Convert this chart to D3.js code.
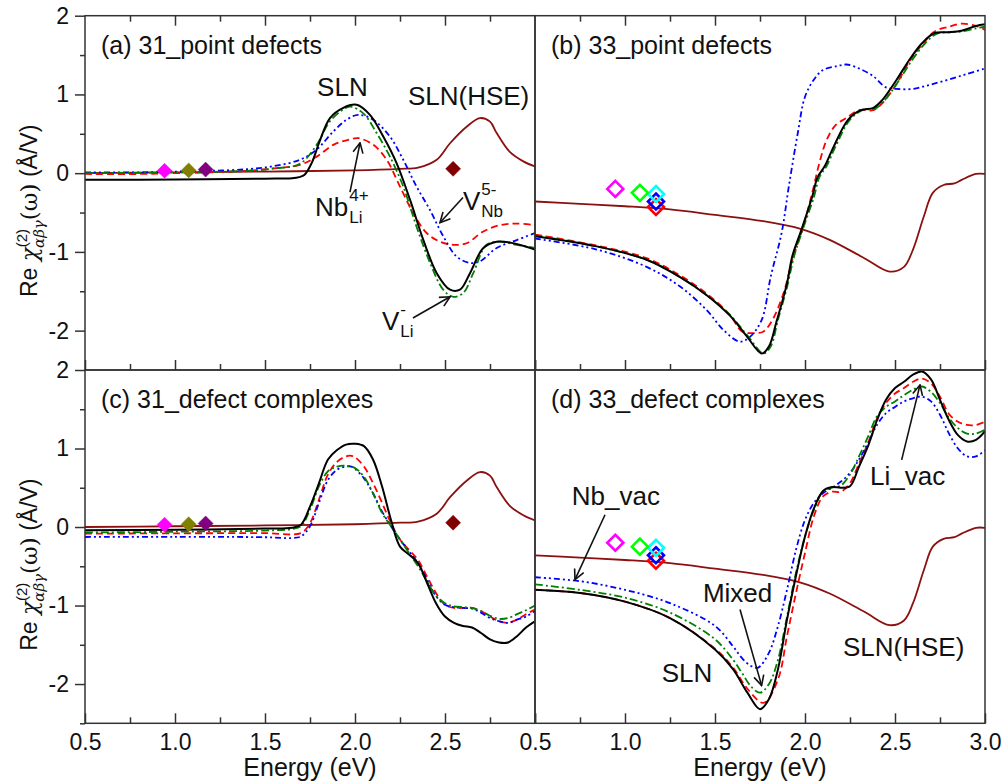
<!DOCTYPE html>
<html>
<head>
<meta charset="utf-8">
<script src="https://cdn.jsdelivr.net/npm/d3@7"></script>
<style>
  body { margin: 0; background: #fff; }
  text { font-family: "Liberation Sans", Arial, sans-serif; fill: #111; }
</style>
</head>
<body>
<div id="chart"></div>
<script>
// ---- data (energy in eV, Re chi in A/V) ----
var hse31 = [[0.5,0.0],[1.0,0.01],[1.5,0.02],[2.0,0.035],[2.25,0.055],[2.35,0.07],[2.454,0.17],[2.528,0.38],[2.62,0.59],[2.694,0.70],[2.75,0.655],[2.787,0.51],[2.86,0.27],[2.935,0.15],[3.0,0.085]];
var hse33 = [[0.5,-0.36],[0.75,-0.39],[1.0,-0.42],[1.25,-0.46],[1.5,-0.53],[1.768,-0.61],[1.98,-0.71],[2.14,-0.85],[2.33,-1.08],[2.47,-1.25],[2.55,-1.19],[2.6,-0.97],[2.66,-0.55],[2.71,-0.25],[2.77,-0.15],[2.83,-0.13],[2.87,-0.085],[2.95,-0.01],[3.0,-0.01]];

// (a) 31 point defects
var a_SLN = [[0.5,-0.085],[1.0,-0.08],[1.5,-0.07],[1.65,-0.064],[1.69,-0.05],[1.72,-0.02],[1.759,0.127],[1.806,0.42],[1.861,0.70],[1.935,0.83],[2.009,0.868],[2.083,0.74],[2.157,0.465],[2.231,0.127],[2.306,-0.34],[2.38,-0.85],[2.454,-1.27],[2.528,-1.48],[2.583,-1.48],[2.639,-1.27],[2.713,-0.95],[2.787,-0.87],[2.88,-0.89],[3.0,-0.97]];
var a_NbLi = [[0.5,-0.01],[0.8,-0.01],[1.0,0.0],[1.2,0.01],[1.4,0.03],[1.55,0.06],[1.694,0.105],[1.787,0.21],[1.88,0.36],[1.972,0.43],[2.018,0.445],[2.102,0.36],[2.176,0.17],[2.25,-0.17],[2.324,-0.51],[2.398,-0.76],[2.472,-0.87],[2.546,-0.91],[2.62,-0.89],[2.713,-0.74],[2.806,-0.66],[2.898,-0.64],[3.0,-0.66]];
var a_VNb = [[0.5,0.01],[0.8,0.01],[1.0,0.02],[1.2,0.03],[1.4,0.05],[1.55,0.09],[1.694,0.17],[1.787,0.30],[1.88,0.53],[1.954,0.68],[2.018,0.74],[2.1,0.68],[2.194,0.465],[2.268,0.17],[2.342,-0.17],[2.417,-0.47],[2.49,-0.8],[2.565,-1.06],[2.639,-1.14],[2.694,-1.12],[2.787,-0.95],[2.898,-0.85],[3.0,-0.76]];
var a_VLi = [[0.5,0.0],[1.0,0.01],[1.4,0.03],[1.55,0.06],[1.694,0.12],[1.787,0.36],[1.861,0.66],[1.935,0.81],[1.972,0.846],[2.046,0.76],[2.12,0.51],[2.194,0.21],[2.268,-0.17],[2.342,-0.68],[2.417,-1.14],[2.49,-1.48],[2.546,-1.57],[2.602,-1.52],[2.657,-1.27],[2.731,-0.91],[2.806,-0.87],[2.898,-0.91],[3.0,-0.95]];

// (b) 33 point defects
var b_SLN = [[0.5,-0.80],[0.843,-0.93],[1.12,-1.1],[1.306,-1.32],[1.454,-1.55],[1.583,-1.81],[1.676,-2.07],[1.76,-2.29],[1.8,-2.2],[1.84,-1.9],[1.9,-1.4],[1.93,-1.05],[1.98,-0.72],[2.04,-0.3],[2.07,-0.05],[2.11,0.09],[2.16,0.34],[2.24,0.68],[2.31,0.80],[2.38,0.83],[2.43,0.93],[2.51,1.19],[2.58,1.44],[2.65,1.65],[2.72,1.78],[2.8,1.79],[2.87,1.81],[2.95,1.87],[3.0,1.89]];
var b_NbLi = [[0.5,-0.78],[0.843,-0.92],[1.12,-1.08],[1.306,-1.30],[1.454,-1.53],[1.583,-1.80],[1.65,-2.01],[1.73,-2.03],[1.77,-2.01],[1.82,-1.86],[1.88,-1.53],[1.93,-1.1],[1.99,-0.68],[2.04,-0.25],[2.08,0.13],[2.12,0.42],[2.17,0.61],[2.23,0.70],[2.3,0.80],[2.38,0.80],[2.43,0.89],[2.51,1.14],[2.58,1.42],[2.65,1.63],[2.72,1.80],[2.8,1.86],[2.87,1.90],[2.95,1.87],[3.0,1.82]];
var b_VLi = [[0.5,-0.79],[0.843,-0.93],[1.12,-1.1],[1.306,-1.32],[1.454,-1.55],[1.583,-1.80],[1.676,-2.05],[1.77,-2.29],[1.81,-2.2],[1.85,-1.86],[1.9,-1.45],[1.94,-1.05],[1.99,-0.70],[2.05,-0.3],[2.08,-0.05],[2.12,0.09],[2.17,0.34],[2.25,0.68],[2.32,0.80],[2.39,0.82],[2.44,0.92],[2.52,1.17],[2.59,1.42],[2.66,1.63],[2.73,1.77],[2.8,1.79],[2.87,1.80],[2.95,1.84],[3.0,1.86]];
var b_VNb = [[0.5,-0.83],[0.843,-0.97],[1.12,-1.19],[1.306,-1.44],[1.454,-1.74],[1.546,-1.99],[1.639,-2.14],[1.694,-2.08],[1.76,-1.86],[1.81,-1.31],[1.87,-0.76],[1.91,-0.17],[1.96,0.51],[2.0,0.97],[2.05,1.19],[2.1,1.31],[2.18,1.36],[2.23,1.38],[2.3,1.33],[2.38,1.23],[2.45,1.09],[2.51,1.07],[2.6,1.07],[2.69,1.12],[2.8,1.19],[2.9,1.26],[3.0,1.33]];

// (c) 31 defect complexes
var c_SLN = [[0.5,-0.04],[1.0,-0.035],[1.5,-0.02],[1.65,-0.01],[1.7,0.03],[1.75,0.26],[1.8,0.56],[1.85,0.86],[1.9,0.98],[1.95,1.05],[2.0,1.06],[2.05,1.03],[2.1,0.86],[2.15,0.52],[2.2,0.09],[2.25,-0.25],[2.3,-0.35],[2.35,-0.46],[2.4,-0.71],[2.45,-0.97],[2.5,-1.14],[2.55,-1.22],[2.6,-1.26],[2.65,-1.28],[2.7,-1.35],[2.75,-1.43],[2.8,-1.47],[2.85,-1.47],[2.9,-1.39],[2.95,-1.28],[3.0,-1.2]];
var c_Mixed = [[0.5,-0.085],[1.0,-0.08],[1.5,-0.078],[1.7,-0.076],[1.75,0.05],[1.8,0.35],[1.85,0.67],[1.9,0.83],[1.95,0.90],[1.98,0.907],[2.0,0.89],[2.05,0.77],[2.1,0.56],[2.15,0.31],[2.2,0.05],[2.25,-0.16],[2.3,-0.29],[2.35,-0.42],[2.4,-0.63],[2.45,-0.84],[2.5,-0.99],[2.55,-1.03],[2.6,-1.03],[2.65,-1.03],[2.7,-1.07],[2.75,-1.14],[2.8,-1.2],[2.85,-1.22],[2.9,-1.18],[2.95,-1.11],[3.0,-1.05]];
var c_LiVac = [[0.5,-0.07],[1.0,-0.06],[1.5,-0.045],[1.65,-0.025],[1.7,0.01],[1.75,0.22],[1.8,0.52],[1.85,0.71],[1.9,0.77],[1.95,0.78],[2.0,0.75],[2.05,0.64],[2.1,0.43],[2.15,0.18],[2.2,0.01],[2.25,-0.16],[2.3,-0.33],[2.35,-0.5],[2.4,-0.69],[2.45,-0.88],[2.5,-0.97],[2.55,-1.01],[2.6,-1.02],[2.65,-1.03],[2.7,-1.07],[2.75,-1.13],[2.8,-1.17],[2.85,-1.16],[2.9,-1.11],[2.95,-1.06],[3.0,-1.0]];
var c_NbVac = [[0.5,-0.127],[1.0,-0.125],[1.5,-0.13],[1.65,-0.14],[1.7,-0.12],[1.75,0.01],[1.8,0.31],[1.85,0.60],[1.9,0.73],[1.95,0.77],[1.98,0.77],[2.0,0.74],[2.05,0.62],[2.1,0.43],[2.15,0.2],[2.2,0.01],[2.25,-0.16],[2.3,-0.31],[2.35,-0.46],[2.4,-0.67],[2.45,-0.88],[2.5,-0.99],[2.55,-1.02],[2.6,-1.03],[2.65,-1.04],[2.7,-1.09],[2.75,-1.16],[2.8,-1.2],[2.85,-1.22],[2.9,-1.18],[2.95,-1.14],[3.0,-1.07]];

// (d) 33 defect complexes
var d_SLN = [[0.5,-0.80],[0.75,-0.84],[1.0,-0.95],[1.25,-1.16],[1.5,-1.56],[1.6,-1.81],[1.68,-2.11],[1.75,-2.32],[1.8,-2.19],[1.85,-1.81],[1.9,-1.18],[1.95,-0.62],[2.0,-0.12],[2.05,0.24],[2.1,0.46],[2.15,0.51],[2.2,0.50],[2.25,0.52],[2.3,0.77],[2.35,1.03],[2.4,1.36],[2.45,1.62],[2.5,1.77],[2.55,1.85],[2.6,1.94],[2.65,1.98],[2.7,1.88],[2.75,1.62],[2.8,1.36],[2.85,1.17],[2.9,1.09],[2.95,1.11],[3.0,1.22]];
var d_Mixed = [[0.5,-0.80],[0.75,-0.84],[1.0,-0.95],[1.25,-1.16],[1.5,-1.55],[1.6,-1.79],[1.68,-2.06],[1.77,-2.24],[1.85,-1.94],[1.9,-1.39],[1.95,-0.84],[2.0,-0.33],[2.05,0.14],[2.1,0.39],[2.15,0.45],[2.2,0.45],[2.25,0.56],[2.3,0.81],[2.35,1.07],[2.4,1.38],[2.45,1.58],[2.5,1.70],[2.55,1.77],[2.6,1.85],[2.65,1.89],[2.7,1.83],[2.75,1.66],[2.8,1.44],[2.85,1.34],[2.9,1.30],[2.95,1.30],[3.0,1.34]];
var d_LiVac = [[0.5,-0.73],[0.75,-0.80],[1.0,-0.90],[1.25,-1.09],[1.5,-1.43],[1.6,-1.69],[1.65,-1.86],[1.7,-2.03],[1.75,-2.11],[1.8,-2.0],[1.85,-1.69],[1.9,-1.14],[1.95,-0.58],[2.0,-0.12],[2.05,0.22],[2.1,0.45],[2.15,0.50],[2.2,0.53],[2.25,0.67],[2.3,0.9],[2.35,1.15],[2.4,1.41],[2.45,1.53],[2.5,1.6],[2.55,1.68],[2.6,1.75],[2.65,1.79],[2.7,1.72],[2.75,1.58],[2.8,1.39],[2.85,1.26],[2.9,1.19],[2.95,1.19],[3.0,1.24]];
var d_NbVac = [[0.5,-0.64],[0.75,-0.69],[1.0,-0.80],[1.25,-0.97],[1.5,-1.26],[1.6,-1.52],[1.65,-1.67],[1.7,-1.77],[1.74,-1.79],[1.8,-1.60],[1.85,-1.26],[1.9,-0.80],[1.95,-0.29],[2.0,0.09],[2.05,0.31],[2.1,0.43],[2.15,0.50],[2.2,0.58],[2.25,0.69],[2.3,0.86],[2.35,1.07],[2.4,1.30],[2.45,1.45],[2.5,1.53],[2.55,1.6],[2.6,1.64],[2.65,1.66],[2.7,1.6],[2.75,1.43],[2.8,1.19],[2.85,1.0],[2.9,0.90],[2.95,0.90],[3.0,0.98]];

// experimental points
var exp31 = [[0.942,0.03,"#ff00ff"],[1.076,0.035,"#808000"],[1.17,0.045,"#800080"],[2.545,0.055,"#800000"]];
var exp33 = [[1.172,-0.43,"#ff0000"],[1.172,-0.36,"#0000ff"],[1.172,-0.265,"#00ffff"],[1.083,-0.25,"#00ff00"],[0.946,-0.2,"#ff00ff"]];

var xMajor = [0.5, 1.0, 1.5, 2.0, 2.5, 3.0];
var xMinor = [0.75, 1.25, 1.75, 2.25, 2.75];
var yMajor = [-2, -1, 0, 1, 2];
var yMinor = [-2.5, -1.5, -0.5, 0.5, 1.5];

var styles = {
    sln:   { color: "#000000", dash: null, w: 2 },
    red:   { color: "#ff0000", dash: "7,4", w: 1.8 },
    green: { color: "#008000", dash: "8,3,2,3", w: 1.8 },
    blue:  { color: "#0000ff", dash: "6,3,2,3,2,3", w: 1.8 },
    hse:   { color: "#8b1010", dash: null, w: 1.8 }
};

var panels = [
    { id: "a", col: 0, row: 0, title: "(a) 31_point defects",
      series: [[hse31, "hse"], [a_NbLi, "red"], [a_VNb, "blue"], [a_VLi, "green"], [a_SLN, "sln"]],
      exp: exp31, filled: true },
    { id: "b", col: 1, row: 0, title: "(b) 33_point defects",
      series: [[hse33, "hse"], [b_NbLi, "red"], [b_VNb, "blue"], [b_VLi, "green"], [b_SLN, "sln"]],
      exp: exp33, filled: false },
    { id: "c", col: 0, row: 1, title: "(c) 31_defect complexes",
      series: [[hse31, "hse"], [c_Mixed, "red"], [c_NbVac, "blue"], [c_LiVac, "green"], [c_SLN, "sln"]],
      exp: exp31, filled: true },
    { id: "d", col: 1, row: 1, title: "(d) 33_defect complexes",
      series: [[hse33, "hse"], [d_Mixed, "red"], [d_NbVac, "blue"], [d_LiVac, "green"], [d_SLN, "sln"]],
      exp: exp33, filled: false }
];

// annotations: text (with optional sup/sub) and arrows, in data units
var notes = [
    { p: "a", x: 1.93, y: 0.98, t: "SLN", anchor: "middle" },
    { p: "a", x: 2.294, y: 0.87, t: "SLN(HSE)" },
    { p: "a", x: 1.778, y: -0.54, t: "Nb", sup: "4+", sub: "Li" },
    { p: "a", x: 2.6, y: -0.47, t: "V", sup: "5-", sub: "Nb" },
    { p: "a", x: 2.15, y: -1.99, t: "V", sup: "-", sub: "Li" },
    { p: "d", x: 0.704, y: 0.28, t: "Nb_vac" },
    { p: "d", x: 1.433, y: -0.96, t: "Mixed" },
    { p: "d", x: 1.204, y: -1.97, t: "SLN" },
    { p: "d", x: 2.211, y: -1.64, t: "SLN(HSE)" },
    { p: "d", x: 2.361, y: 0.54, t: "Li_vac" }
];
var arrows = [
    { p: "a", from: [1.972, -0.24], to: [2.028, 0.385] },
    { p: "a", from: [2.6, -0.31], to: [2.472, -0.63] },
    { p: "a", from: [2.322, -1.84], to: [2.528, -1.57] },
    { p: "d", from: [0.889, 0.156], to: [0.722, -0.67] },
    { p: "d", from: [1.639, -1.05], to: [1.759, -2.02] },
    { p: "d", from: [2.537, 0.855], to: [2.639, 1.81] }
];

// ---- layout ----
var colX = [[85, 535], [535, 985]];
var rowY = [[15.7, 370], [370, 723.3]];
var tickFont = 23, titleFont = 25, noteFont = 26;

var svg = d3.select("#chart")
    .append("svg")
    .attr("width", 1004)
    .attr("height", 782);

var defs = svg.append("defs");
defs.append("marker")
    .attr("id", "arrowhead")
    .attr("viewBox", "0 0 12 12")
    .attr("refX", 11)
    .attr("refY", 6)
    .attr("markerWidth", 12)
    .attr("markerHeight", 12)
    .attr("markerUnits", "userSpaceOnUse")
    .attr("orient", "auto")
    .append("path")
    .attr("d", "M1,1 L11,6 L1,11")
    .attr("fill", "none")
    .attr("stroke", "#111")
    .attr("stroke-width", 1.6);

var xScales = colX.map(function(r) {
    return d3.scaleLinear().domain([0.5, 3.0]).range(r);
});
var yScales = rowY.map(function(r) {
    return d3.scaleLinear().domain([-2.5, 2]).range([r[1], r[0]]);
});

function diamond(cx, cy, r) {
    return "M" + cx + "," + (cy - r) + "L" + (cx + r) + "," + cy +
        "L" + cx + "," + (cy + r) + "L" + (cx - r) + "," + cy + "Z";
}

panels.forEach(function(p) {
    var x = xScales[p.col], y = yScales[p.row];
    var g = svg.append("g").attr("class", "panel-" + p.id);

    defs.append("clipPath").attr("id", "clip-" + p.id)
        .append("rect")
        .attr("x", x.range()[0]).attr("y", y.range()[1])
        .attr("width", x.range()[1] - x.range()[0])
        .attr("height", y.range()[0] - y.range()[1]);

    var plot = g.append("g").attr("clip-path", "url(#clip-" + p.id + ")");

    var line = d3.line()
        .x(function(d) { return x(d[0]); })
        .y(function(d) { return y(d[1]); })
        .curve(d3.curveCatmullRom.alpha(0.5));

    p.series.forEach(function(s) {
        var st = styles[s[1]];
        plot.append("path")
            .datum(s[0])
            .attr("d", line)
            .attr("fill", "none")
            .attr("stroke", st.color)
            .attr("stroke-width", st.w)
            .attr("stroke-dasharray", st.dash);
    });

    // experimental diamonds
    plot.selectAll(".exp").data(p.exp).enter()
        .append("path")
        .attr("class", "exp")
        .attr("d", function(d) { return diamond(x(d[0]), y(d[1]), p.filled ? 7.5 : 8); })
        .attr("fill", function(d) { return p.filled ? d[2] : "none"; })
        .attr("stroke", function(d) { return d[2]; })
        .attr("stroke-width", p.filled ? 0.5 : 2.6);

    // frame
    g.append("rect")
        .attr("x", x.range()[0]).attr("y", y.range()[1])
        .attr("width", x.range()[1] - x.range()[0])
        .attr("height", y.range()[0] - y.range()[1])
        .attr("fill", "none")
        .attr("stroke", "#333")
        .attr("stroke-width", 1.5);

    // x ticks (inside), bottom always, top only on the upper row
    var bottom = g.append("g").attr("transform", "translate(0," + y.range()[0] + ")");
    var labels = p.row === 1 ? (p.col === 0 ? xMajor.slice(0, 5) : xMajor) : [];
    bottom.append("g")
        .call(d3.axisBottom(x).tickValues(xMajor).tickSize(-10).tickPadding(10)
            .tickFormat(function(d) { return labels.indexOf(d) >= 0 ? d.toFixed(1) : ""; }));
    bottom.append("g")
        .call(d3.axisBottom(x).tickValues(xMinor).tickSize(-6).tickFormat(""));
    if (p.row === 0) {
        var top = g.append("g").attr("transform", "translate(0," + y.range()[1] + ")");
        top.append("g").call(d3.axisTop(x).tickValues(xMajor.slice(1, 5)).tickSize(-10).tickFormat(""));
        top.append("g").call(d3.axisTop(x).tickValues(xMinor).tickSize(-6).tickFormat(""));
    }

    // y ticks (outside), left column only
    if (p.col === 0) {
        var left = g.append("g").attr("transform", "translate(" + x.range()[0] + ",0)");
        left.append("g").call(d3.axisLeft(y).tickValues(yMajor).tickSize(10).tickPadding(6)
            .tickFormat(function(d) { return String(d); }));
        left.append("g").call(d3.axisLeft(y).tickValues(p.row === 0 ? yMinor.slice(1) : yMinor)
            .tickSize(5).tickFormat(""));

        var yl = g.append("text")
            .attr("transform", "translate(37," + ((y.range()[0] + y.range()[1]) / 2 + 18) + ") rotate(-90)")
            .attr("text-anchor", "middle")
            .style("font-size", "23px");
        yl.append("tspan").text("Re ");
        yl.append("tspan").text("\u03c7").style("font-family", "DejaVu Serif").style("font-style", "italic");
        yl.append("tspan").text("(2)").attr("dy", -10).style("font-size", "15px");
        yl.append("tspan").text("\u03b1\u03b2\u03b3").attr("dx", -19).attr("dy", 17)
            .style("font-size", "15px").style("font-family", "DejaVu Serif").style("font-style", "italic");
        yl.append("tspan").text("(\u03c9)").attr("dy", -7).style("font-family", "DejaVu Serif");
        yl.append("tspan").text(" (\u00c5/V)");
    }

    g.selectAll(".domain").remove();
    g.selectAll(".tick line").attr("stroke", "#333").attr("stroke-width", 1.5);
    g.selectAll(".tick text").style("font-size", tickFont + "px").attr("fill", "#111");

    // energy label
    if (p.row === 1) {
        g.append("text")
            .attr("x", (x.range()[0] + x.range()[1]) / 2)
            .attr("y", 776)
            .attr("text-anchor", "middle")
            .style("font-size", titleFont + "px")
            .text("Energy (eV)");
    }

    // panel title
    g.append("text")
        .attr("x", x.range()[0] + 16)
        .attr("y", y.range()[1] + 38)
        .style("font-size", titleFont + "px")
        .text(p.title);

    // annotations
    notes.filter(function(n) { return n.p === p.id; }).forEach(function(n) {
        var t = g.append("text")
            .attr("x", x(n.x)).attr("y", y(n.y))
            .attr("text-anchor", n.anchor || "start")
            .style("font-size", noteFont + "px")
            .text(n.t);
        if (n.sup) {
            var w = t.node().getComputedTextLength();
            g.append("text").attr("x", x(n.x) + w + 1).attr("y", y(n.y) - 15)
                .style("font-size", "17px").text(n.sup);
            g.append("text").attr("x", x(n.x) + w + 1).attr("y", y(n.y) + 7)
                .style("font-size", "17px").text(n.sub);
        }
    });
    arrows.filter(function(a) { return a.p === p.id; }).forEach(function(a) {
        g.append("line")
            .attr("x1", x(a.from[0])).attr("y1", y(a.from[1]))
            .attr("x2", x(a.to[0])).attr("y2", y(a.to[1]))
            .attr("stroke", "#111")
            .attr("stroke-width", 1.6)
            .attr("marker-end", "url(#arrowhead)");
    });
});
</script>
</body>
</html>
